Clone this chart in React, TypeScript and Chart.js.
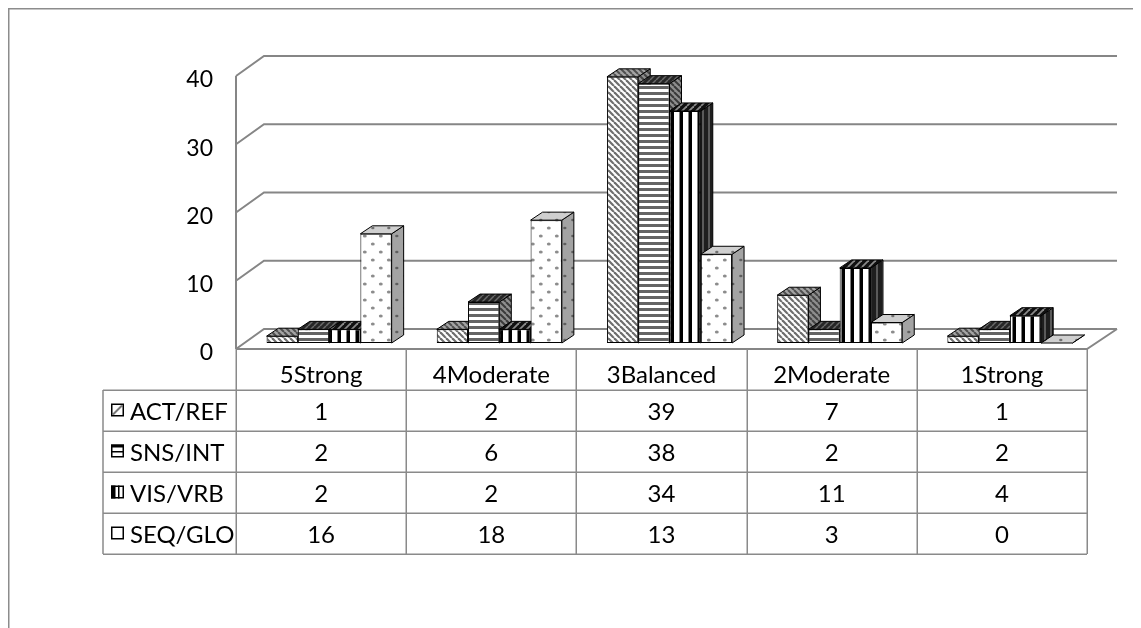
import React, { useEffect, useRef } from "react";
import { Chart, registerables } from "chart.js";

Chart.register(...registerables);

// ---------- data ----------
const categories = ["5Strong", "4Moderate", "3Balanced", "2Moderate", "1Strong"];
const seriesNames = ["ACT/REF", "SNS/INT", "VIS/VRB", "SEQ/GLO"];
const actRef = [1, 2, 39, 7, 1];
const snsInt = [2, 6, 38, 2, 2];
const visVrb = [2, 2, 34, 11, 4];
const seqGlo = [16, 18, 13, 3, 0];
const yTicks = [0, 10, 20, 30, 40];
const seriesData = [actRef, snsInt, visVrb, seqGlo];

// ---------- look ----------
const W = 1133;
const H = 620;
const FONT_FAMILY = 'Lato, "Open Sans", sans-serif';
const TABLE_FONT = `24px ${FONT_FAMILY}`;
const AXIS_FONT = `23px ${FONT_FAMILY}`;
const GRID = "#868686";
const TABLE_LINE = "#8a8a8a";
const DEPTH_X = 12;
const DEPTH_Y = 8;
const FRONT_DX = -8;
const FRONT_DY = 6;
const BACK_DX = 20;
const BACK_DY = -14;
const ROW_H = 41;
const LEGEND_LEFT = 95;

type Painter = (g: CanvasRenderingContext2D, w: number, h: number) => void;

function tile(w: number, h: number, bg: string, draw: Painter): HTMLCanvasElement {
  const c = document.createElement("canvas");
  c.width = w;
  c.height = h;
  const g = c.getContext("2d")!;
  g.fillStyle = bg;
  g.fillRect(0, 0, w, h);
  draw(g, w, h);
  return c;
}
const diagDown = (color: string, lw: number): Painter => (g, w, h) => {
  g.strokeStyle = color;
  g.lineWidth = lw;
  for (const o of [-w, 0, w]) {
    g.beginPath();
    g.moveTo(o, 0);
    g.lineTo(o + w, h);
    g.stroke();
  }
};
const diagUp = (color: string, lw: number): Painter => (g, w, h) => {
  g.strokeStyle = color;
  g.lineWidth = lw;
  for (const o of [-w, 0, w]) {
    g.beginPath();
    g.moveTo(o, h);
    g.lineTo(o + w, 0);
    g.stroke();
  }
};
const hBand = (color: string, t: number): Painter => (g, w) => {
  g.fillStyle = color;
  g.fillRect(0, 0, w, t);
};
const vBand = (color: string, t: number): Painter => (g, w, h) => {
  g.fillStyle = color;
  g.fillRect(w - t, 0, t, h);
};
const dots = (color: string, r: number): Painter => (g, w, h) => {
  g.fillStyle = color;
  for (const [px, py] of [
    [w * 0.3, h * 0.25],
    [w * 0.8, h * 0.75],
  ]) {
    g.beginPath();
    g.ellipse(px, py, r * 1.3, r, 0, 0, Math.PI * 2);
    g.fill();
  }
};

function drawIcon(ctx: CanvasRenderingContext2D, i: number, x: number, y: number) {
  const s = 13;
  ctx.save();
  ctx.fillStyle = "#fff";
  ctx.fillRect(x, y, s, s);
  ctx.fillStyle = "#000";
  if (i === 0) {
    ctx.strokeStyle = "#777";
    ctx.lineWidth = 2;
    ctx.beginPath();
    ctx.moveTo(x + 2, y + s - 2);
    ctx.lineTo(x + s - 2, y + 2);
    ctx.stroke();
  } else if (i === 1) {
    ctx.fillRect(x, y, s, 3);
    ctx.fillRect(x, y + 6.5, s, 1.5);
  } else if (i === 2) {
    ctx.fillRect(x, y, 4.5, s);
    ctx.fillRect(x + 7, y, 1.5, s);
  }
  ctx.strokeStyle = "#000";
  ctx.lineWidth = 1.5;
  ctx.strokeRect(x + 0.75, y + 0.75, s - 1.5, s - 1.5);
  ctx.restore();
}

export default function App() {
  const ref = useRef<HTMLCanvasElement | null>(null);

  useEffect(() => {
    document.documentElement.style.overflow = "hidden";
    document.body.style.overflow = "hidden";
    const canvas = ref.current!;
    const c2d = canvas.getContext("2d")!;
    const pat = (c: HTMLCanvasElement) => c2d.createPattern(c, "repeat")!;

    const faces = [
      {
        front: pat(tile(6, 6, "#ffffff", diagDown("#6e6e6e", 2.2))),
        top: pat(tile(6, 6, "#a4a4a4", diagDown("#4f4f4f", 2))),
        side: pat(tile(6, 6, "#8e8e8e", diagDown("#444444", 2))),
      },
      {
        front: pat(tile(6, 6, "#ffffff", hBand("#646464", 3))),
        top: pat(tile(6, 6, "#262626", diagUp("#6a6a6a", 1.5))),
        side: pat(tile(6, 6, "#8e8e8e", diagDown("#3a3a3a", 2))),
      },
      {
        front: pat(tile(9, 9, "#ffffff", vBand("#000000", 3.5))),
        top: pat(tile(7, 7, "#111111", diagUp("#8a8a8a", 1.8))),
        side: pat(tile(6, 6, "#1e1e1e", vBand("#5a5a5a", 2))),
      },
      {
        front: pat(tile(16, 16, "#ffffff", dots("#8c8c8c", 1.5))),
        top: pat(tile(16, 16, "#cfcfcf", dots("#707070", 1.3))),
        side: pat(tile(16, 16, "#a3a3a3", dots("#5e5e5e", 1.3))),
      },
    ];

    const plugin = {
      id: "excel3d",
      beforeDatasetsDraw(chart: any) {
        const { ctx, chartArea: a } = chart;
        const ys = chart.scales.y;
        const xs = chart.scales.x;
        ctx.save();

        // outer frame (top and left visible)
        ctx.strokeStyle = "#8c8c8c";
        ctx.lineWidth = 1.5;
        ctx.beginPath();
        ctx.moveTo(0.75, chart.height);
        ctx.lineTo(0.75, 0.75);
        ctx.lineTo(chart.width, 0.75);
        ctx.stroke();

        const y0 = ys.getPixelForValue(0);
        const yMax = ys.getPixelForValue(yTicks[yTicks.length - 1]);
        const fl = a.left + FRONT_DX;
        const fr = a.right + FRONT_DX;
        const bl = a.left + BACK_DX;
        const br = a.right + BACK_DX + 2;

        // back wall gridlines + side diagonals
        ctx.strokeStyle = GRID;
        ctx.lineWidth = 2;
        ctx.lineJoin = "miter";
        for (const v of yTicks) {
          const py = ys.getPixelForValue(v);
          ctx.beginPath();
          ctx.moveTo(fl, py + FRONT_DY);
          ctx.lineTo(bl, py + BACK_DY);
          ctx.lineTo(br, py + BACK_DY);
          ctx.stroke();
        }
        // front left edge
        ctx.beginPath();
        ctx.moveTo(fl, yMax + FRONT_DY);
        ctx.lineTo(fl, y0 + FRONT_DY);
        ctx.stroke();
        // floor
        ctx.beginPath();
        ctx.moveTo(fl, y0 + FRONT_DY);
        ctx.lineTo(fr, y0 + FRONT_DY);
        ctx.lineTo(br, y0 + BACK_DY);
        ctx.stroke();

        // y tick labels
        ctx.fillStyle = "#000";
        ctx.font = AXIS_FONT;
        ctx.textAlign = "right";
        ctx.textBaseline = "middle";
        for (const v of yTicks) {
          const py = ys.getPixelForValue(v);
          ctx.fillText(String(v), 205, py + FRONT_DY + 4);
        }

        // data table
        ctx.font = TABLE_FONT;
        const catW = (a.right - a.left) / categories.length;
        const tTop = y0 + FRONT_DY;
        const hBottom = tTop + ROW_H;
        const tBottom = hBottom + seriesNames.length * ROW_H;
        ctx.strokeStyle = TABLE_LINE;
        ctx.lineWidth = 1.5;
        for (let k = 0; k <= categories.length; k++) {
          const lx = Math.round(fl + k * catW) + 0.25;
          ctx.beginPath();
          ctx.moveTo(lx, tTop);
          ctx.lineTo(lx, tBottom);
          ctx.stroke();
        }
        ctx.beginPath();
        ctx.moveTo(LEGEND_LEFT, hBottom);
        ctx.lineTo(LEGEND_LEFT, tBottom);
        ctx.stroke();
        for (let r = 0; r <= seriesNames.length; r++) {
          const ly = Math.round(hBottom + r * ROW_H) + 0.25;
          ctx.beginPath();
          ctx.moveTo(LEGEND_LEFT, ly);
          ctx.lineTo(fr, ly);
          ctx.stroke();
        }
        ctx.fillStyle = "#000";
        ctx.textAlign = "center";
        categories.forEach((cat, k) => {
          const cx = xs.getPixelForValue(k) + FRONT_DX;
          ctx.fillText(cat, cx, tTop + ROW_H / 2 + 6);
          seriesData.forEach((vals, r) => {
            ctx.fillText(String(vals[k]), cx, hBottom + r * ROW_H + ROW_H / 2 + 2);
          });
        });
        ctx.textAlign = "left";
        seriesNames.forEach((name, r) => {
          const cy = hBottom + r * ROW_H + ROW_H / 2;
          drawIcon(ctx, r, LEGEND_LEFT + 8, cy - 7);
          ctx.fillText(name, LEGEND_LEFT + 27, cy + 2);
        });

        // 3D side and top faces, left to right within each category
        ctx.strokeStyle = "#000";
        ctx.lineWidth = 1;
        ctx.lineJoin = "round";
        for (let k = 0; k < categories.length; k++) {
          for (let d = 0; d < seriesNames.length; d++) {
            const el = chart.getDatasetMeta(d).data[k];
            if (!el) continue;
            const p = el.getProps(["x", "y", "base", "width"], true);
            const x0 = p.x - p.width / 2;
            const x1 = p.x + p.width / 2;
            const top = p.y;
            const base = p.base;
            // side
            ctx.beginPath();
            ctx.moveTo(x1, top);
            ctx.lineTo(x1 + DEPTH_X, top - DEPTH_Y);
            ctx.lineTo(x1 + DEPTH_X, base - DEPTH_Y);
            ctx.lineTo(x1, base);
            ctx.closePath();
            ctx.fillStyle = faces[d].side;
            ctx.fill();
            ctx.stroke();
            // top
            ctx.beginPath();
            ctx.moveTo(x0, top);
            ctx.lineTo(x0 + DEPTH_X, top - DEPTH_Y);
            ctx.lineTo(x1 + DEPTH_X, top - DEPTH_Y);
            ctx.lineTo(x1, top);
            ctx.closePath();
            ctx.fillStyle = faces[d].top;
            ctx.fill();
            ctx.stroke();
          }
        }
        ctx.restore();
      },
    };

    const chart = new Chart(canvas, {
      type: "bar",
      data: {
        labels: categories,
        datasets: seriesNames.map((name, i) => ({
          label: name,
          data: seriesData[i],
          backgroundColor: faces[i].front as any,
          borderColor: "#000000",
          borderWidth: 1,
          borderSkipped: false,
          categoryPercentage: 0.735,
          barPercentage: 1,
          clip: false as any,
        })),
      },
      options: {
        animation: false,
        responsive: false,
        devicePixelRatio: 1,
        events: [],
        layout: { padding: { left: 236, right: 46, top: 62, bottom: 285 } },
        plugins: { legend: { display: false }, tooltip: { enabled: false } },
        scales: {
          x: { display: false },
          y: { display: false, min: 0, max: 40 },
        },
      },
      plugins: [plugin],
    });
    return () => chart.destroy();
  }, []);

  return (
    <div style={{ width: W, height: H }}>
      <canvas ref={ref} width={W} height={H} style={{ display: "block", width: W, height: H }} />
    </div>
  );
}
